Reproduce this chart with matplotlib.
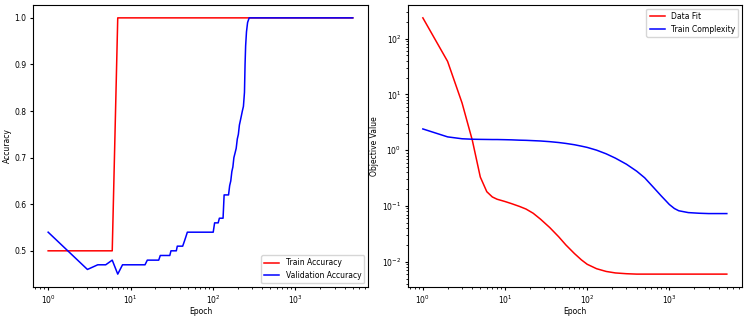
import matplotlib
matplotlib.use("Agg")
import matplotlib.pyplot as plt

# ---------------- DATA ----------------
train_acc_epochs = [1, 6, 7, 5000]
train_acc = [0.5, 0.5, 1.0, 1.0]

val_acc_epochs = [1, 3, 4, 5, 6, 7, 8, 15, 16, 22, 23, 30, 31, 36, 37, 43, 45, 47, 49,
                  101, 105, 116, 120, 133, 137, 155, 160, 165, 170, 175, 180, 186, 192,
                  198, 204, 210, 216, 222, 228, 235, 242, 246, 250, 256, 264, 276, 5000]
val_acc = [0.54, 0.46, 0.47, 0.47, 0.48, 0.45, 0.47, 0.47, 0.48, 0.48, 0.49, 0.49, 0.50,
           0.50, 0.51, 0.51, 0.52, 0.53, 0.54, 0.54, 0.56, 0.56, 0.57, 0.57, 0.62, 0.62,
           0.64, 0.65, 0.67, 0.68, 0.70, 0.71, 0.72, 0.74, 0.75, 0.77, 0.78, 0.79, 0.80,
           0.81, 0.84, 0.90, 0.94, 0.97, 0.99, 1.0, 1.0]

obj_epochs = [1, 2, 3, 4, 5, 6, 7, 8, 10, 12, 15, 18, 22, 27, 35, 45, 55, 70, 85, 100,
              130, 170, 220, 300, 400, 500, 650, 800, 900, 1000, 1150, 1300, 1700, 2300,
              3000, 5000]
data_fit = [235, 39, 7.0, 1.5, 0.33, 0.18, 0.145, 0.132, 0.12, 0.11, 0.098, 0.088, 0.074,
            0.058, 0.041, 0.028, 0.020, 0.014, 0.0108, 0.009, 0.0075, 0.0067, 0.0063,
            0.0061, 0.006, 0.006, 0.006, 0.006, 0.006, 0.006, 0.006, 0.006, 0.006, 0.006,
            0.006, 0.006]
train_complexity = [2.4, 1.73, 1.6, 1.57, 1.56, 1.555, 1.55, 1.55, 1.54, 1.53, 1.51, 1.50,
                    1.48, 1.46, 1.42, 1.37, 1.32, 1.25, 1.18, 1.12, 1.0, 0.86, 0.72, 0.56,
                    0.42, 0.32, 0.21, 0.15, 0.125, 0.106, 0.09, 0.082, 0.076, 0.074, 0.073,
                    0.073]

# ---------------- PLOT ----------------
fs = 5.5
plt.rcParams["font.size"] = fs

fig = plt.figure(figsize=(7.48, 3.16), dpi=100)
ax1 = fig.add_axes([0.044, 0.092, 0.448, 0.892])
ax2 = fig.add_axes([0.545, 0.092, 0.447, 0.892])

ax1.plot(train_acc_epochs, train_acc, color="red", lw=1.1, label="Train Accuracy")
ax1.plot(val_acc_epochs, val_acc, color="blue", lw=1.1, label="Validation Accuracy")
ax1.set_xscale("log")
ax1.set_xlabel("Epoch", fontsize=fs, labelpad=1)
ax1.set_ylabel("Accuracy", fontsize=fs, labelpad=2)
ax1.legend(loc="lower right", fontsize=fs)

ax2.plot(obj_epochs, data_fit, color="red", lw=1.1, label="Data Fit")
ax2.plot(obj_epochs, train_complexity, color="blue", lw=1.1, label="Train Complexity")
ax2.set_xscale("log")
ax2.set_yscale("log")
ax2.set_xlabel("Epoch", fontsize=fs, labelpad=1)
ax2.set_ylabel("Objective Value", fontsize=fs, labelpad=2)
ax2.legend(loc="upper right", fontsize=fs)

for ax in (ax1, ax2):
    ax.tick_params(labelsize=fs, length=2.5, pad=2)
    ax.tick_params(which="minor", length=1.5)

fig.savefig("out.png", dpi=100)
